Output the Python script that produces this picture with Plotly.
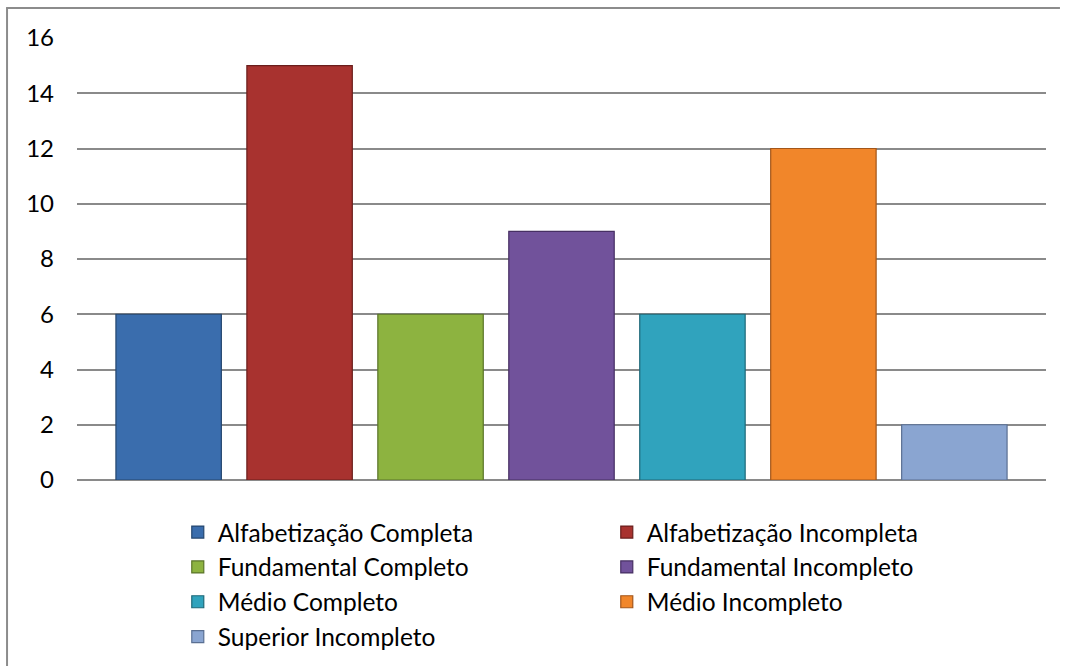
import plotly.graph_objects as go

# Escolaridade: one series per level, single category
levels = [
    "Alfabetização Completa",
    "Alfabetização Incompleta",
    "Fundamental Completo",
    "Fundamental Incompleto",
    "Médio Completo",
    "Médio Incompleto",
    "Superior Incompleto",
]
counts = [6, 15, 6, 9, 6, 12, 2]
fill_colors = ["#3A6DAD", "#A8322F", "#8DB340", "#71529B", "#30A3BD", "#F1862A", "#8AA5D1"]
edge_colors = ["#24466F", "#6A1E1C", "#5A7428", "#462F63", "#1E6878", "#A3561A", "#5A6F92"]
y_ticks = [0, 2, 4, 6, 8, 10, 12, 14, 16]

FONT = "Lato, 'Open Sans', sans-serif"

fig = go.Figure()
for name, val, fc, ec in zip(levels, counts, fill_colors, edge_colors):
    fig.add_trace(go.Bar(
        x=[""], y=[val], name=name,
        marker=dict(color=fc, line=dict(color=ec, width=1.2)),
        hoverinfo="name+y",
    ))

fig.update_layout(
    width=1068, height=666,
    margin=dict(l=77, r=22, t=38, b=186, autoexpand=False),
    paper_bgcolor="white", plot_bgcolor="white",
    barmode="group", bargap=0.054, bargroupgap=0.195,
    font=dict(family=FONT, size=24, color="#000000"),
    showlegend=True,
    legend=dict(
        orientation="h", x=0.104, xanchor="left", y=-0.067, yanchor="top",
        entrywidth=384, entrywidthmode="pixels",
        font=dict(family=FONT, size=24.5, color="#000000"),
        traceorder="normal", bgcolor="rgba(0,0,0,0)",
    ),
    xaxis=dict(showticklabels=False, showgrid=False, zeroline=False,
               showline=False, ticks=""),
    yaxis=dict(range=[0, 16], tickvals=y_ticks, showgrid=True,
               gridcolor="#8A8A8A", gridwidth=1.8, zeroline=True,
               zerolinecolor="#8A8A8A", zerolinewidth=1.8,
               showline=False, ticks="", ticklabelstandoff=22),
    # chart frame: left edge as a line, top edge as a thin filled strip
    shapes=[
        dict(type="line", xref="paper", yref="paper",
             x0=-0.0722, x1=-0.0722, y0=-0.5, y1=1.0679,
             line=dict(color="#8C8C8C", width=2), layer="below"),
        dict(type="rect", xref="paper", yref="paper",
             x0=-0.0732, x1=1.0144, y0=1.0656, y1=1.0702,
             fillcolor="#8C8C8C", line=dict(width=0), layer="below"),
    ],
)

fig.write_html("out.html")
